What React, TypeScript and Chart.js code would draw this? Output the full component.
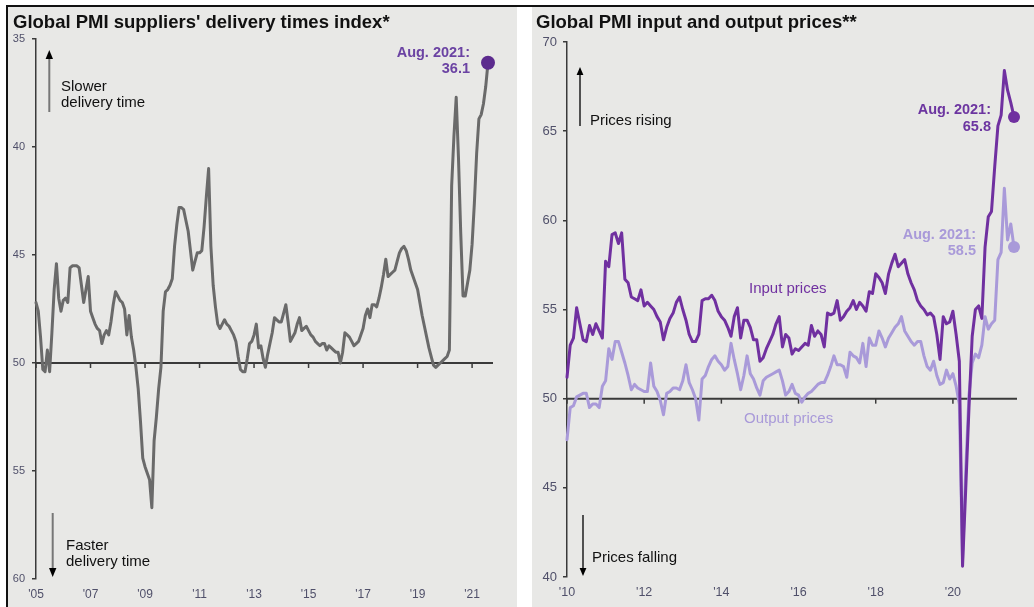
import React, { useEffect, useRef } from "react";
import { Chart, registerables } from "chart.js";

Chart.register(...registerables);

const FONT = "'Liberation Sans', Arial, sans-serif";
Chart.defaults.font.family = FONT;

// ---------------- DATA ----------------
// Global PMI suppliers' delivery times index, monthly, Jan 2005 - Aug 2021 (axis inverted)
const deliveryStartYear = 2005;
const deliveryTimes = [
  // 2005
  47.2, 47.6, 48.8, 50.3, 50.4, 49.4, 50.4, 48.6, 46.6, 45.4, 47.0, 47.6,
  // 2006
  47.1, 47.0, 47.2, 45.6, 45.5, 45.5, 45.5, 45.6, 46.4, 47.2, 46.6, 46.0,
  // 2007
  47.6, 47.9, 48.2, 48.4, 48.5, 49.1, 48.7, 48.5, 48.7, 48.1, 47.3, 46.7,
  // 2008
  46.9, 47.1, 47.2, 47.5, 48.7, 47.8, 48.8, 49.4, 50.2, 51.2, 52.7, 54.4,
  // 2009
  54.8, 55.1, 55.4, 56.7, 53.6, 52.5, 51.2, 50.2, 47.6, 46.7, 46.6, 46.4,
  // 2010
  46.1, 44.6, 43.6, 42.8, 42.8, 42.9, 43.4, 43.9, 44.8, 45.7, 45.3, 44.9,
  // 2011
  44.9, 44.8, 43.7, 42.3, 41.0, 44.6, 46.4, 47.4, 48.2, 48.4, 48.2, 48.0,
  // 2012
  48.2, 48.3, 48.5, 48.7, 49.0, 49.7, 50.3, 50.4, 50.4, 49.8, 49.1, 49.0,
  // 2013
  48.7, 48.2, 49.3, 49.2, 49.8, 50.2, 49.6, 49.1, 48.6, 47.9, 48.0, 48.1,
  // 2014
  48.1, 47.7, 47.3, 48.1, 49.0, 48.8, 48.6, 48.2, 47.9, 48.5, 48.4, 48.3,
  // 2015
  48.5, 48.7, 48.8, 49.0, 49.1, 49.2, 49.1, 49.1, 49.4, 49.2, 49.3, 49.4,
  // 2016
  49.5, 49.5, 50.0, 49.5, 48.6, 48.7, 48.8, 49.0, 49.2, 49.1, 49.0, 48.7,
  // 2017
  48.4, 47.8, 47.5, 47.9, 47.3, 47.3, 47.4, 47.0, 46.5, 45.9, 45.2, 46.0,
  // 2018
  45.9, 45.8, 45.7, 45.3, 44.9, 44.7, 44.6, 44.8, 45.2, 45.7, 46.0, 46.3,
  // 2019
  46.6, 47.2, 47.8, 48.3, 48.8, 49.3, 49.7, 50.1, 50.2, 50.1, 50.0, 49.9,
  // 2020
  49.8, 49.7, 49.4, 41.8, 39.5, 37.7, 40.5, 44.0, 46.9, 46.9, 46.3, 45.7,
  // 2021 (Jan-Aug)
  44.5, 42.6, 40.3, 38.7, 38.5, 38.0, 37.2, 36.1,
];

// Global PMI input and output prices, monthly, Jan 2010 - Aug 2021
const pricesStartYear = 2010;
const inputPrices = [
  // 2010
  51.2, 53.0, 53.4, 55.1, 54.2, 53.3, 53.2, 54.1, 53.6, 54.2, 53.8, 53.4,
  // 2011
  57.7, 57.4, 59.2, 59.3, 58.7, 59.3, 56.7, 56.5, 55.7, 55.6, 55.5, 56.1,
  // 2012
  55.2, 55.4, 55.2, 55.0, 54.6, 54.3, 53.3, 54.0, 54.5, 54.8, 55.4, 55.7,
  // 2013
  55.0, 54.4, 53.6, 53.2, 53.2, 53.6, 55.5, 55.6, 55.6, 55.8, 55.5, 54.9,
  // 2014
  54.6, 54.4, 54.0, 53.5, 54.6, 55.1, 53.4, 54.4, 54.4, 54.0, 53.3, 53.3,
  // 2015
  52.1, 52.3, 52.8, 53.2, 53.6, 54.2, 54.6, 52.9, 53.6, 53.4, 52.5, 52.8,
  // 2016
  52.7, 52.9, 53.1, 53.0, 54.1, 53.5, 53.8, 53.6, 52.9, 54.8, 54.7, 54.8,
  // 2017
  55.5, 54.4, 54.6, 54.9, 55.1, 55.5, 55.0, 55.4, 55.2, 54.9, 56.0, 55.9,
  // 2018
  57.0, 56.8, 56.5, 55.9, 57.0, 57.6, 58.1, 57.4, 57.6, 57.8, 57.0, 56.5,
  // 2019
  56.1, 55.5, 55.2, 55.0, 54.7, 54.8, 54.6, 53.6, 52.2, 54.6, 54.2, 54.3,
  // 2020
  54.9, 53.6, 52.1, 40.6, 45.0, 49.5, 53.5, 55.0, 55.2, 54.5, 58.5, 60.2,
  // 2021 (Jan-Aug)
  60.5, 63.0, 65.3, 65.9, 68.4, 67.3, 66.6, 65.8,
];
const outputPrices = [
  // 2010
  47.7, 49.5, 49.6, 50.1, 50.2, 50.3, 50.3, 49.5, 49.7, 49.7, 49.5, 50.7,
  // 2011
  51.0, 52.8, 52.2, 53.2, 53.2, 52.6, 52.0, 51.3, 50.5, 50.8, 50.6, 50.5,
  // 2012
  50.4, 50.4, 52.0, 50.7, 50.4, 49.9, 49.1, 50.3, 50.4, 50.6, 50.6, 50.5,
  // 2013
  51.0, 51.9, 50.9, 50.5, 50.0, 48.8, 51.1, 51.3, 51.8, 52.2, 52.4, 52.1,
  // 2014
  51.9, 51.6, 51.8, 53.1, 52.2, 51.4, 50.5, 51.3, 52.4, 51.4, 51.1, 50.6,
  // 2015
  50.2, 51.0, 51.2, 51.3, 51.4, 51.5, 51.6, 51.0, 50.2, 50.4, 50.8, 50.3,
  // 2016
  50.2, 49.8, 50.1, 50.3, 50.4, 50.6, 50.8, 50.9, 50.9, 51.3, 51.8, 52.4,
  // 2017
  51.9, 51.9, 51.8, 51.2, 52.6, 52.4, 52.3, 52.0, 53.1, 51.8, 53.4, 53.0,
  // 2018
  53.0, 53.8, 53.4, 52.9, 53.4, 53.7, 54.0, 54.2, 54.6, 53.8, 53.5, 53.2,
  // 2019
  53.0, 53.2, 53.2, 52.4, 51.8, 51.6, 52.1, 51.3, 50.8, 50.9, 51.6, 51.1,
  // 2020
  51.4, 50.7, 49.7, 41.0, 46.0, 50.2, 52.0, 52.5, 52.3, 53.0, 54.6, 53.9,
  // 2021 (Jan-Aug)
  54.2, 54.4, 57.8, 58.2, 61.8, 58.9, 59.8, 58.5,
];

// Axis ranges / ticks
const deliveryAxis = [35, 60, 5]; // min, max, step (inverted)
const pricesAxis = [40, 70, 5];
const yearTickStepMonths = 24;
const neutralValue = 50;
const lastLabel = "Aug. 2021:";

// ---------------- STYLES ----------------
const GRAY_BG = "#e8e8e6";
const AXIS = "#3a3a3a";
const TICK_TXT = "#50506a";
const DELIVERY_LINE = "#6a6a6a";
const DOT_PURPLE = "#5c2b8e";
const INPUT_C = "#7030a0";
const OUTPUT_C = "#a99ad9";

const neutralLinePlugin = {
  id: "neutralLine",
  beforeDatasetsDraw(chart: any, _args: any, opts: any) {
    const { ctx, chartArea, scales } = chart;
    const x = scales.x;
    const y = scales.y;
    const py = y.getPixelForValue(neutralValue);
    ctx.save();
    ctx.strokeStyle = AXIS;
    ctx.lineWidth = 2;
    ctx.beginPath();
    ctx.moveTo(chartArea.left, py);
    ctx.lineTo(chartArea.right + (opts.extend || 0), py);
    ctx.stroke();
    ctx.lineWidth = 1.5;
    x.ticks.forEach((t: any) => {
      const px = x.getPixelForValue(t.value);
      ctx.beginPath();
      ctx.moveTo(px, py);
      ctx.lineTo(px, py + 5);
      ctx.stroke();
    });
    ctx.restore();
  },
};

function makeConfig(opts: {
  datasets: any[];
  count: number;
  startYear: number;
  axis: number[];
  reverse: boolean;
  padding: any;
  yFont: number;
  xFont: number;
  yPad: number;
  xPad: number;
  extend: number;
}) {
  return {
    type: "line" as const,
    data: { datasets: opts.datasets },
    options: {
      animation: false,
      responsive: false,
      maintainAspectRatio: false,
      events: [],
      layout: { padding: opts.padding },
      plugins: {
        legend: { display: false },
        tooltip: { enabled: false },
        neutralLine: { extend: opts.extend },
      },
      scales: {
        x: {
          type: "linear",
          min: 0,
          max: opts.count - 1,
          grid: { display: false, drawTicks: false },
          border: { display: false },
          afterFit: (s: any) => {
            s.height = 22;
          },
          ticks: {
            stepSize: yearTickStepMonths,
            includeBounds: false,
            autoSkip: false,
            maxRotation: 0,
            padding: opts.xPad,
            color: TICK_TXT,
            font: { size: opts.xFont },
            callback: (v: number) =>
              "'" + String((opts.startYear + Math.round(v / 12)) % 100).padStart(2, "0"),
          },
        },
        y: {
          reverse: opts.reverse,
          min: opts.axis[0],
          max: opts.axis[1],
          afterFit: (s: any) => {
            s.width = 28;
          },
          grid: { drawOnChartArea: false, tickLength: 4, color: AXIS, lineWidth: 1.5 },
          border: { display: true, color: AXIS, width: 1.5 },
          ticks: {
            stepSize: opts.axis[2],
            padding: opts.yPad,
            color: TICK_TXT,
            font: { size: opts.yFont },
          },
        },
      },
    },
    plugins: [neutralLinePlugin],
  };
}

function series(values: number[], color: string, dot: string, radius: number) {
  const last = values.length - 1;
  return {
    data: values.map((v, i) => ({ x: i, y: v })),
    borderColor: color,
    borderWidth: 3,
    borderJoinStyle: "round",
    borderCapStyle: "round",
    tension: 0,
    clip: false,
    pointRadius: (c: any) => (c.dataIndex === last ? radius : 0),
    pointHoverRadius: 0,
    pointBackgroundColor: dot,
    pointBorderWidth: 0,
  };
}

function T(props: {
  x: number;
  y: number;
  size: number;
  lh: number;
  color?: string;
  bold?: boolean;
  right?: boolean;
  children: React.ReactNode;
}) {
  const style: React.CSSProperties = {
    position: "absolute",
    top: props.y,
    fontSize: props.size,
    lineHeight: props.lh + "px",
    fontWeight: props.bold ? "bold" : "normal",
    color: props.color || "#111",
    whiteSpace: "pre",
    fontFamily: FONT,
  };
  if (props.right) {
    style.left = props.x - 200;
    style.width = 200;
    style.textAlign = "right";
  } else {
    style.left = props.x;
  }
  return <div style={style}>{props.children}</div>;
}

export default function App() {
  const leftRef = useRef<HTMLCanvasElement>(null);
  const rightRef = useRef<HTMLCanvasElement>(null);

  useEffect(() => {
    const left = new Chart(
      leftRef.current as HTMLCanvasElement,
      makeConfig({
        datasets: [series(deliveryTimes, DELIVERY_LINE, DOT_PURPLE, 7)],
        count: deliveryTimes.length,
        startYear: deliveryStartYear,
        axis: deliveryAxis,
        reverse: true,
        padding: { left: 0, right: 29, top: 32, bottom: 6 },
        yFont: 11,
        xFont: 12,
        yPad: 7,
        xPad: 8,
        extend: 5,
      }) as any
    );
    const right = new Chart(
      rightRef.current as HTMLCanvasElement,
      makeConfig({
        datasets: [
          series(inputPrices, INPUT_C, INPUT_C, 6),
          series(outputPrices, OUTPUT_C, OUTPUT_C, 6),
        ],
        count: inputPrices.length,
        startYear: pricesStartYear,
        axis: pricesAxis,
        reverse: false,
        padding: { left: 7, right: 20, top: 35, bottom: 8 },
        yFont: 13,
        xFont: 12.5,
        yPad: 6,
        xPad: 8,
        extend: 3,
      }) as any
    );
    return () => {
      left.destroy();
      right.destroy();
    };
  }, []);

  const lastDelivery = deliveryTimes[deliveryTimes.length - 1].toFixed(1);
  const lastInput = inputPrices[inputPrices.length - 1].toFixed(1);
  const lastOutput = outputPrices[outputPrices.length - 1].toFixed(1);

  return (
    <div
      style={{
        position: "fixed",
        left: 0,
        top: 0,
        width: 1034,
        height: 607,
        background: "#ffffff",
        overflow: "hidden",
        fontFamily: FONT,
      }}
    >
      <div style={{ position: "absolute", left: 8, top: 7, width: 509, height: 600, background: GRAY_BG }} />
      <div style={{ position: "absolute", left: 532, top: 7, width: 502, height: 600, background: GRAY_BG }} />
      <div style={{ position: "absolute", left: 6, top: 5, width: 1028, height: 2, background: "#111" }} />
      <div style={{ position: "absolute", left: 6, top: 5, width: 2, height: 602, background: "#111" }} />

      <canvas ref={leftRef} width={509} height={600} style={{ position: "absolute", left: 8, top: 7 }} />
      <canvas ref={rightRef} width={502} height={600} style={{ position: "absolute", left: 532, top: 7 }} />

      {/* Titles */}
      <T x={13} y={11.6} size={18.5} lh={20} bold>
        Global PMI suppliers' delivery times index*
      </T>
      <T x={536} y={11.6} size={18.5} lh={20} bold>
        Global PMI input and output prices**
      </T>

      {/* Left annotations */}
      <T x={61} y={77.5} size={15} lh={16}>
        {"Slower\ndelivery time"}
      </T>
      <T x={66} y={536.8} size={15} lh={16}>
        {"Faster\ndelivery time"}
      </T>
      <T x={470} y={45.3} size={14.5} lh={15.5} bold right color="#6b43a3">
        {lastLabel + "\n" + lastDelivery}
      </T>

      {/* Right annotations */}
      <T x={590} y={111.8} size={15} lh={16}>
        Prices rising
      </T>
      <T x={592} y={548.5} size={15} lh={16}>
        Prices falling
      </T>
      <T x={749} y={279.5} size={15} lh={16} color={INPUT_C}>
        Input prices
      </T>
      <T x={744} y={410.1} size={15} lh={16} color={OUTPUT_C}>
        Output prices
      </T>
      <T x={991} y={100.8} size={14.5} lh={17} bold right color="#6c35a0">
        {lastLabel + "\n" + lastInput}
      </T>
      <T x={976} y={226.3} size={14.5} lh={16} bold right color={OUTPUT_C}>
        {lastLabel + "\n" + lastOutput}
      </T>

      {/* Arrows */}
      <svg
        width={1034}
        height={607}
        style={{ position: "absolute", left: 0, top: 0, pointerEvents: "none" }}
      >
        <line x1={49.3} y1={58} x2={49.3} y2={112} stroke="#777" strokeWidth={2} />
        <polygon points="49.3,50 45.6,59 53,59" fill="#000" />
        <line x1={52.7} y1={513} x2={52.7} y2={569} stroke="#777" strokeWidth={2} />
        <polygon points="52.7,577 49,568 56.4,568" fill="#000" />
        <line x1={580} y1={74} x2={580} y2={126} stroke="#111" strokeWidth={1.4} />
        <polygon points="580,67 576.6,75 583.4,75" fill="#000" />
        <line x1={583} y1={515} x2={583} y2={569} stroke="#111" strokeWidth={1.4} />
        <polygon points="583,576 579.6,568 586.4,568" fill="#000" />
      </svg>
    </div>
  );
}
